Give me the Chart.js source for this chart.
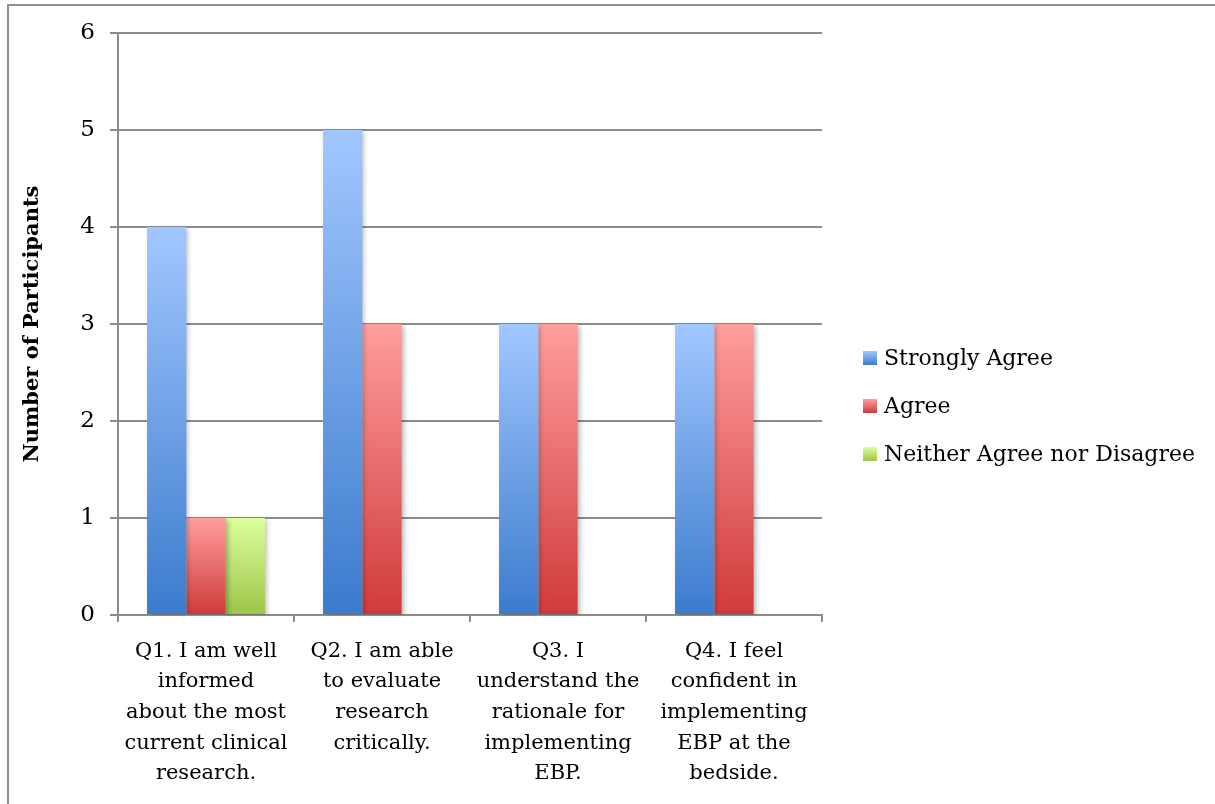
<!DOCTYPE html>
<html>
<head>
<meta charset="utf-8">
<script src="https://cdn.jsdelivr.net/npm/chart.js@4"></script>
<style>
  html, body { margin: 0; padding: 0; background: #ffffff; }
  #wrap { width: 1215px; height: 804px; position: relative; }
</style>
</head>
<body>
<div id="wrap"><canvas id="c" width="1215" height="804"></canvas></div>
<script>
// Survey responses per statement
const categories = [
  ["Q1. I am well", "informed", "about the most", "current clinical", "research."],
  ["Q2. I am able", "to evaluate", "research", "critically."],
  ["Q3. I", "understand the", "rationale for", "implementing", "EBP."],
  ["Q4. I feel", "confident in", "implementing", "EBP at the", "bedside."]
];
const seriesNames = ["Strongly Agree", "Agree", "Neither Agree nor Disagree"];
const stronglyAgree = [4, 5, 3, 3];
const agree = [1, 3, 3, 3];
const neither = [1, 0, 0, 0];
const yTicks = [0, 1, 2, 3, 4, 5, 6];
const yTitle = "Number of Participants";

const FONT = "'DejaVu Serif', 'Liberation Serif', serif";
const GRID = "#8c8c8c";

// top / bottom colours of each series' vertical gradient
const shades = [
  ["#a2c7ff", "#3b7bcd"],
  ["#ff9e9e", "#d03a3a"],
  ["#ddff9e", "#9cc548"]
];

function barGradient(idx) {
  return function (ctx) {
    const chart = ctx.chart;
    const area = chart.chartArea;
    if (!area || ctx.type !== "data") return shades[idx][1];
    const y = chart.scales.y;
    const top = y.getPixelForValue(ctx.raw);
    const base = y.getPixelForValue(0);
    if (!(base > top)) return shades[idx][1];
    const g = chart.ctx.createLinearGradient(0, top, 0, base);
    g.addColorStop(0, shades[idx][0]);
    g.addColorStop(1, shades[idx][1]);
    return g;
  };
}

// outer frame of the figure
const framePlugin = {
  id: "frame",
  beforeDraw(chart) {
    const c = chart.ctx;
    c.save();
    c.strokeStyle = "#8f8f8f";
    c.lineWidth = 2;
    c.beginPath();
    c.moveTo(8, chart.height + 5);
    c.lineTo(8, 5);
    c.lineTo(chart.width + 5, 5);
    c.stroke();
    c.restore();
  }
};

// soft drop shadow under the bars
const shadowPlugin = {
  id: "barShadow",
  beforeDatasetsDraw(chart) {
    const c = chart.ctx;
    c.save();
    c.shadowColor = "rgba(0,0,0,0.28)";
    c.shadowBlur = 5;
    c.shadowOffsetX = 2;
    c.shadowOffsetY = 2;
  },
  afterDatasetsDraw(chart) {
    chart.ctx.restore();
  }
};

// legend on the right with gradient swatches
const legendPlugin = {
  id: "sideLegend",
  afterDraw(chart) {
    const c = chart.ctx;
    const area = chart.chartArea;
    const ds = chart.data.datasets;
    const rowGap = 48;
    const x = area.right + 41;
    const cy = chart.height / 2 + 4;
    const y0 = cy - rowGap * (ds.length - 1) / 2;
    c.save();
    c.font = "22px " + FONT;
    c.textBaseline = "middle";
    c.fillStyle = "#000";
    ds.forEach((d, i) => {
      const y = y0 + i * rowGap;
      const g = c.createLinearGradient(0, y - 7, 0, y + 7);
      g.addColorStop(0, shades[i][0]);
      g.addColorStop(1, shades[i][1]);
      c.fillStyle = g;
      c.fillRect(x, y - 7, 14, 14);
      c.fillStyle = "#000";
      c.fillText(d.label, x + 21, y + 1);
    });
    c.restore();
  }
};

const data = {
  labels: categories,
  datasets: [
    { label: seriesNames[0], data: stronglyAgree, backgroundColor: barGradient(0) },
    { label: seriesNames[1], data: agree, backgroundColor: barGradient(1) },
    { label: seriesNames[2], data: neither, backgroundColor: barGradient(2) }
  ]
};

new Chart(document.getElementById("c"), {
  type: "bar",
  data,
  options: {
    responsive: false,
    animation: false,
    events: [],
    layout: { padding: { left: 0, right: 393, top: 33, bottom: 0 } },
    datasets: { bar: { categoryPercentage: 0.67, barPercentage: 1.0, borderWidth: 0 } },
    plugins: {
      legend: { display: false },
      tooltip: { enabled: false }
    },
    scales: {
      x: {
        afterFit(s) { s.height = 189; },
        grid: { drawOnChartArea: false, drawTicks: true, tickLength: 7, color: GRID, lineWidth: 2, offset: true },
        border: { display: true, color: GRID, width: 2 },
        ticks: {
          color: "#000",
          padding: 14,
          maxRotation: 0,
          autoSkip: false,
          font: { family: FONT, size: 21, lineHeight: 1.46 }
        }
      },
      y: {
        min: 0,
        max: 6,
        afterFit(s) { s.width = 118; },
        afterBuildTicks(s) { s.ticks = yTicks.map(v => ({ value: v })); },
        grid: { color: GRID, lineWidth: 2, tickLength: 8 },
        border: { display: true, color: GRID, width: 2 },
        ticks: {
          color: "#000",
          padding: 15,
          font: { family: FONT, size: 23 }
        },
        title: {
          display: true,
          text: yTitle,
          color: "#000",
          padding: { top: 20, bottom: 0 },
          font: { family: FONT, size: 21, weight: "bold" }
        }
      }
    }
  },
  plugins: [framePlugin, shadowPlugin, legendPlugin]
});
</script>
</body>
</html>
